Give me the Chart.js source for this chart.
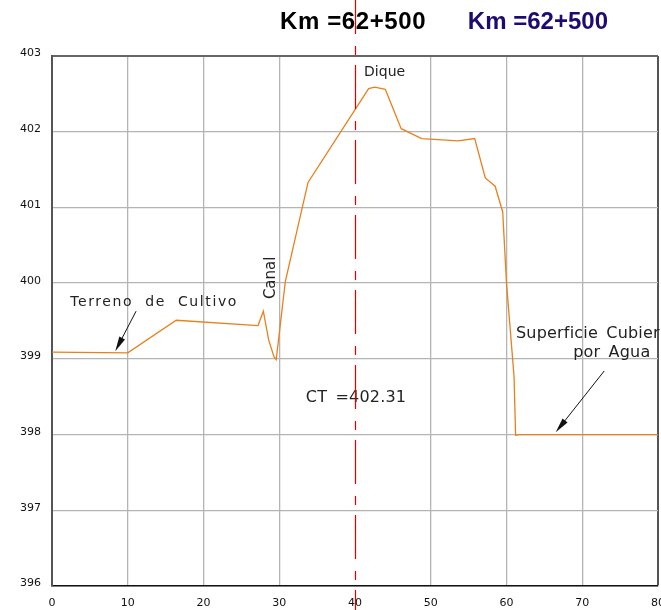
<!DOCTYPE html>
<html>
<head>
<meta charset="utf-8">
<script src="https://cdn.jsdelivr.net/npm/chart.js@4.4.0/dist/chart.umd.min.js"></script>
<style>
  html, body { margin: 0; padding: 0; background: #fff; }
  #wrap { width: 661px; height: 610px; }
</style>
</head>
<body>
<div id="wrap"><canvas id="profile" width="661" height="610"></canvas></div>
<script>
// distancia (m) y cota (m) del perfil
const distances = [0, 10, 16.4, 27.2, 27.9, 28.6, 29.3, 29.6, 30.8, 33.8, 41.8, 42.6, 44.0, 46.1, 48.8, 53.6, 55.8, 57.2, 58.5, 59.5, 60.0, 61.0, 61.2, 61.7, 80];
const elevations = [399.09, 399.08, 399.51, 399.44, 399.63, 399.25, 399.03, 398.99, 400.02, 401.33, 402.57, 402.59, 402.56, 402.04, 401.91, 401.88, 401.91, 401.39, 401.28, 400.94, 400.0, 398.76, 397.99, 398.0, 398.0];
const xTicks = [0, 10, 20, 30, 40, 50, 60, 70, 80];
const yTicks = [396, 397, 398, 399, 400, 401, 402, 403];
const axisKm = 40;

const points = distances.map((d, i) => ({ x: d, y: elevations[i] }));

function arrow(ctx, x1, y1, x2, y2) {
  const a = Math.atan2(y2 - y1, x2 - x1);
  const len = 15, w = 3.2;
  ctx.beginPath();
  ctx.moveTo(x1, y1);
  ctx.lineTo(x2 - Math.cos(a) * len * 0.8, y2 - Math.sin(a) * len * 0.8);
  ctx.stroke();
  ctx.beginPath();
  ctx.moveTo(x2, y2);
  ctx.lineTo(x2 - Math.cos(a) * len - Math.sin(a) * w, y2 - Math.sin(a) * len + Math.cos(a) * w);
  ctx.lineTo(x2 - Math.cos(a) * len + Math.sin(a) * w, y2 - Math.sin(a) * len - Math.cos(a) * w);
  ctx.closePath();
  ctx.fill();
}

const labelsPlugin = {
  id: 'labels',
  afterDatasetsDraw(chart) {
    const { ctx, scales: { x, y } } = chart;
    const px = v => x.getPixelForValue(v);
    const py = v => y.getPixelForValue(v);
    ctx.save();
    ctx.fillStyle = '#222';
    ctx.textBaseline = 'middle';
    ctx.textAlign = 'left';

    ctx.font = '14px "DejaVu Sans"';
    ctx.fillText('Dique', px(41.2), py(402.78));

    ctx.letterSpacing = '1.6px';
    ctx.wordSpacing = '6px';
    ctx.fillText('Terreno de Cultivo', px(2.4), py(399.75));
    ctx.letterSpacing = '0.2px';
    ctx.wordSpacing = '3px';

    ctx.font = '16px "DejaVu Sans"';
    ctx.fillText('CT =402.31', px(33.5), py(398.48));
    ctx.fillText('Superficie Cubier', px(61.25), py(399.33));
    ctx.fillText('por Agua', px(68.8), py(399.08));
    ctx.wordSpacing = '0px';
    ctx.letterSpacing = '0px';

    ctx.save();
    ctx.translate(px(28.9), py(400.07));
    ctx.rotate(-Math.PI / 2);
    ctx.textAlign = 'center';
    ctx.font = '15px "DejaVu Sans"';
    ctx.fillText('Canal', 0, 0);
    ctx.restore();

    ctx.font = 'bold 24px "Liberation Sans", Arial, sans-serif';
    ctx.fillStyle = '#000';
    ctx.letterSpacing = '0.6px';
    ctx.fillText('Km =62+500', px(30.1), py(403.45));
    ctx.letterSpacing = '0px';
    ctx.fillStyle = '#1e0b72';
    ctx.fillText('Km =62+500', px(54.9), py(403.45));

    ctx.strokeStyle = '#111';
    ctx.fillStyle = '#111';
    ctx.lineWidth = 1;
    arrow(ctx, px(11.1), py(399.63), px(8.35), py(399.1));
    arrow(ctx, px(72.9), py(398.84), px(66.5), py(398.03));
    ctx.restore();
  },
  afterDraw(chart) {
    const { ctx, scales: { x } } = chart;
    const xp = Math.round(x.getPixelForValue(axisKm)) + 0.5;
    ctx.save();
    ctx.strokeStyle = '#e00000';
    ctx.lineWidth = 1.2;
    ctx.setLineDash([44, 12, 9, 10]);
    ctx.lineDashOffset = 10;
    ctx.beginPath();
    ctx.moveTo(xp, 0);
    ctx.lineTo(xp, chart.height);
    ctx.stroke();
    ctx.restore();
  }
};

new Chart(document.getElementById('profile'), {
  type: 'line',
  data: {
    datasets: [{
      data: points,
      borderColor: '#e8801e',
      borderWidth: 1.3,
      pointRadius: 0,
      tension: 0,
      fill: false
    }]
  },
  options: {
    responsive: false,
    animation: false,
    layout: { padding: { top: 56, right: 3, left: 0, bottom: 0 } },
    plugins: { legend: { display: false }, tooltip: { enabled: false } },
    scales: {
      x: {
        type: 'linear',
        min: 0,
        max: 80,
        afterFit: s => { s.height = 24; s.paddingLeft = 0; s.paddingRight = 0; },
        afterBuildTicks: s => { s.ticks = xTicks.map(v => ({ value: v })); },
        ticks: { padding: 11, color: '#111', font: { family: 'DejaVu Sans', size: 11 }, maxRotation: 0 },
        grid: {
          drawTicks: false,
          color: c => {
            if (!c.tick) return '#b4b4b4';
            if (c.tick.value === axisKm) return 'rgba(0,0,0,0)';
            return c.tick.value === 80 ? '#555' : '#b4b4b4';
          },
          lineWidth: c => (c.tick && c.tick.value === 80 ? 2 : 1.3)
        },
        border: { color: '#111', width: 1.5 }
      },
      y: {
        min: 396,
        max: 403,
        afterFit: s => { s.width = 52; s.paddingTop = 0; s.paddingBottom = 0; },
        afterBuildTicks: s => { s.ticks = yTicks.map(v => ({ value: v })); },
        ticks: { padding: 11, labelOffset: -2.5, color: '#111', font: { family: 'DejaVu Sans', size: 11 } },
        grid: {
          drawTicks: false,
          color: c => (c.tick && c.tick.value === 403 ? '#666' : '#b4b4b4'),
          lineWidth: c => (c.tick && c.tick.value === 403 ? 2 : 1.3)
        },
        border: { color: '#555', width: 2 }
      }
    }
  },
  plugins: [labelsPlugin]
});
</script>
</body>
</html>
